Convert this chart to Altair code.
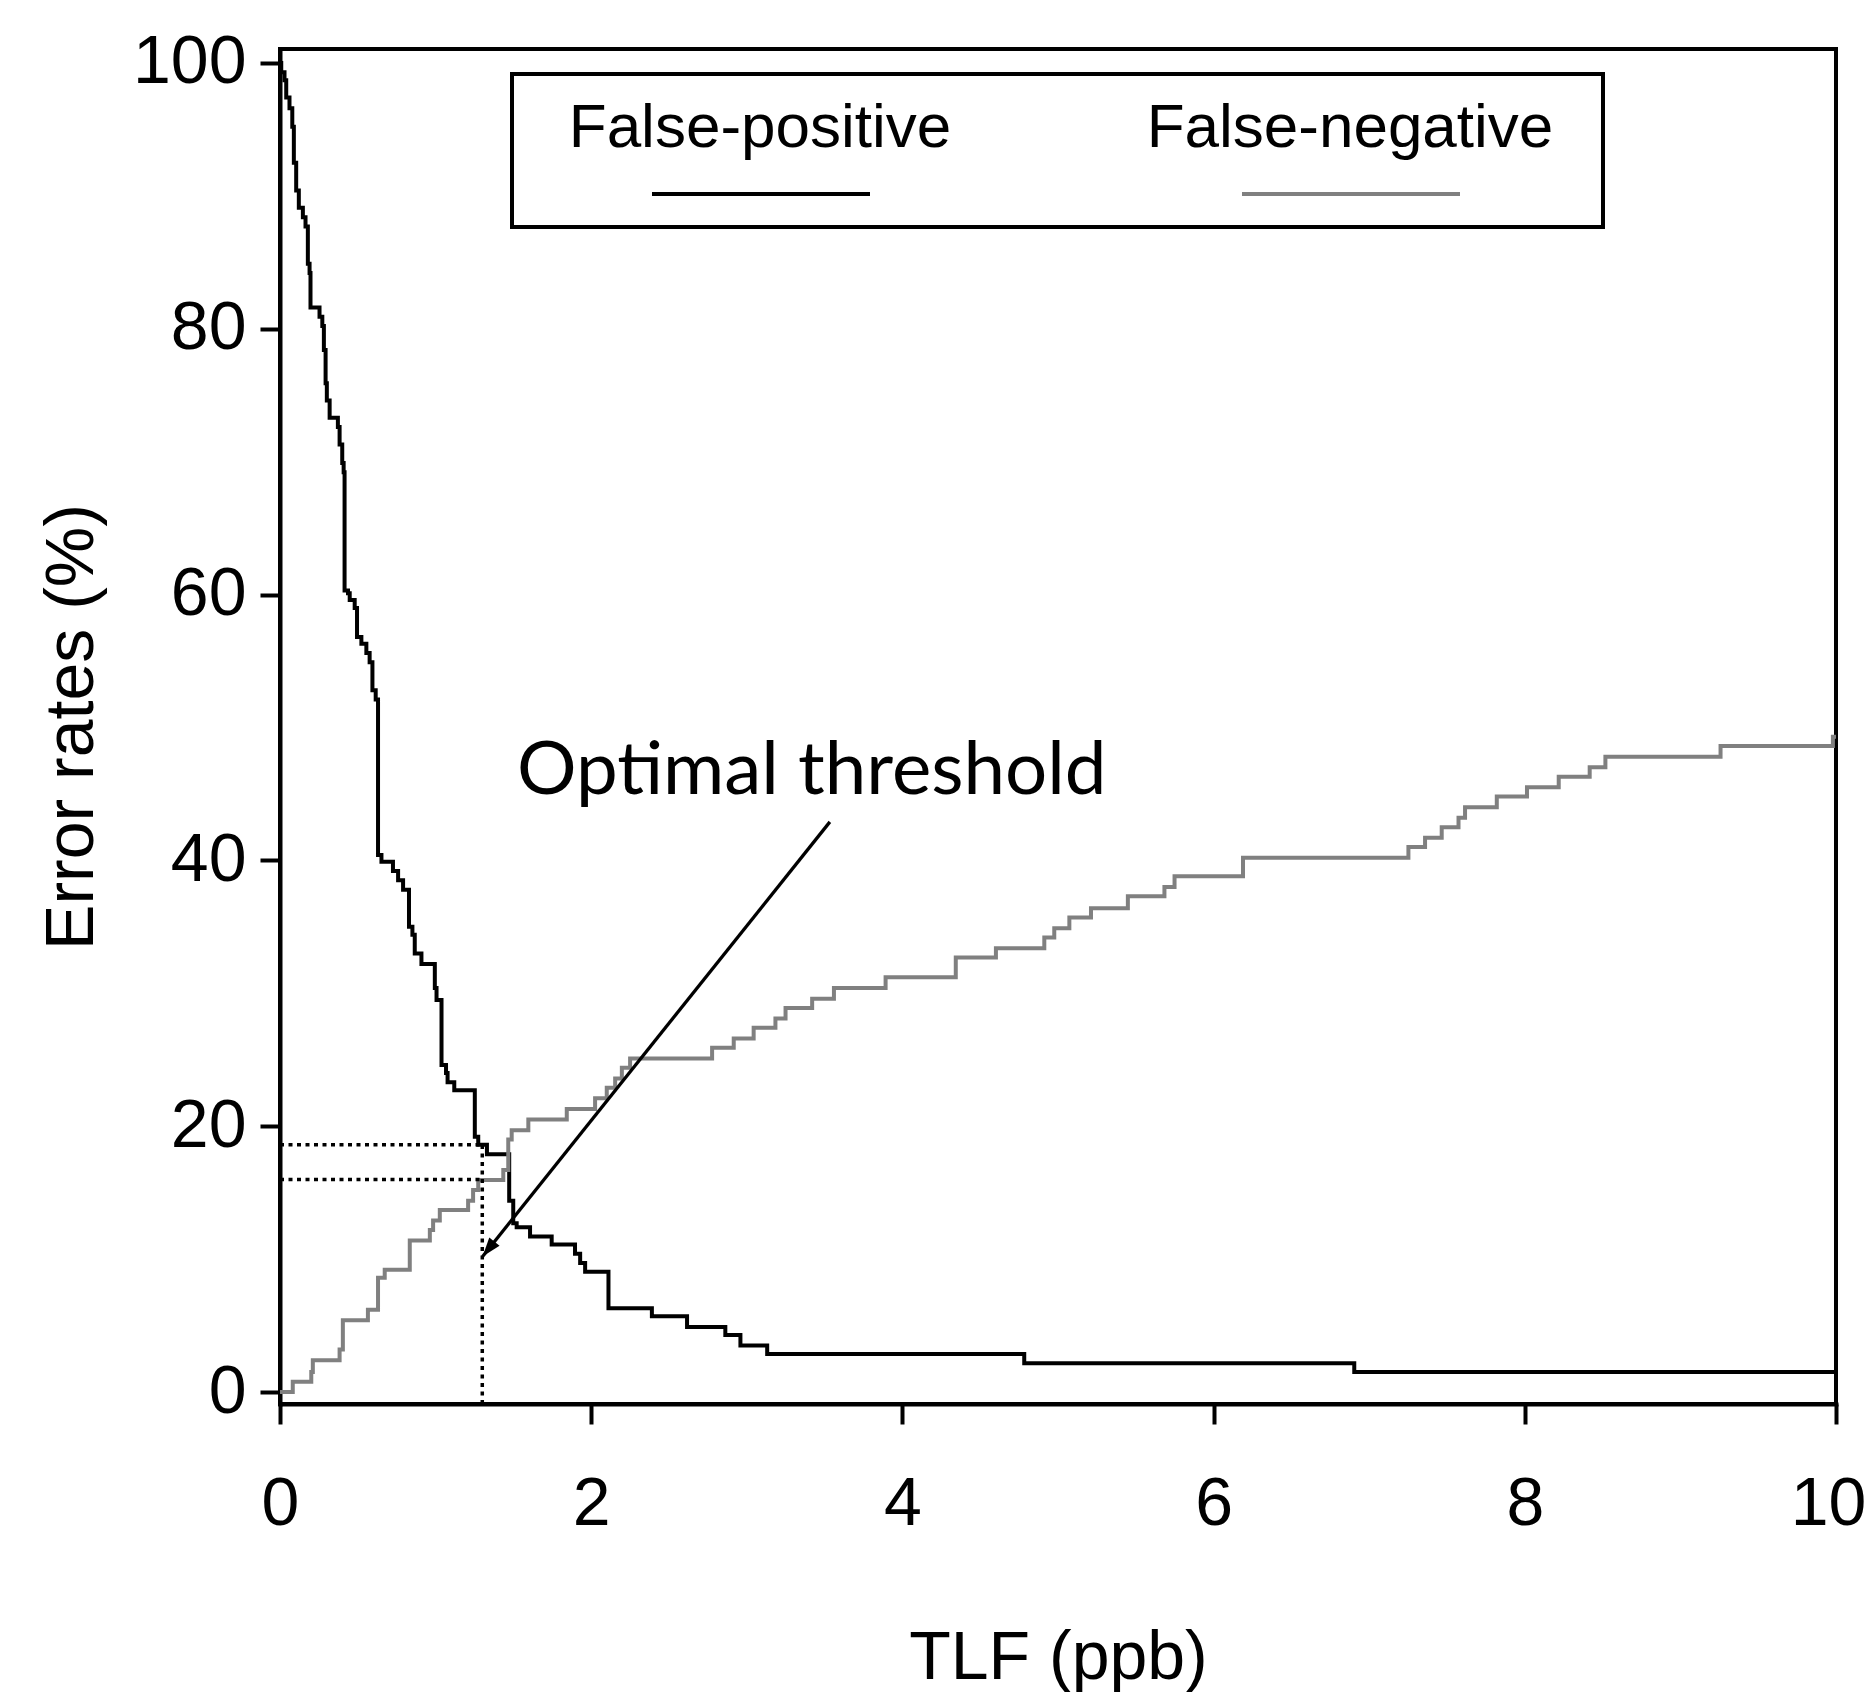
import altair as alt
import pandas as pd

# ---- data (TLF in ppb, error rate in %) ----
fp_x = [0, 0.008, 0.029, 0.04, 0.061, 0.079, 0.089, 0.104, 0.121, 0.147, 0.164, 0.179, 0.19, 0.196,
        0.254, 0.272, 0.282, 0.293, 0.301, 0.319, 0.372, 0.383, 0.40, 0.409, 0.415, 0.437, 0.448,
        0.48, 0.495, 0.523, 0.555, 0.576, 0.594, 0.615, 0.63, 0.652, 0.726, 0.759, 0.791, 0.829,
        0.851, 0.866, 0.909, 0.995, 1.006, 1.038, 1.067, 1.077, 1.12, 1.252, 1.274, 1.33, 1.473,
        1.499, 1.521, 1.607, 1.746, 1.896, 1.929, 1.961, 2.111, 2.39, 2.616, 2.862, 2.959, 3.131,
        4.783, 6.904, 10.0]
fp_y = [100, 99.3, 98.7, 97.4, 96.6, 95.2, 92.5, 90.4, 89.1, 88.4, 87.7, 84.9, 84.2, 81.6,
        80.9, 80.2, 78.4, 75.9, 74.6, 73.3, 72.6, 71.3, 69.9, 69.2, 60.3, 60.1, 59.6,
        59.0, 56.8, 56.3, 55.6, 54.9, 52.8, 52.1, 40.4, 39.9, 39.2, 38.5, 37.8, 35.0,
        34.4, 33.0, 32.2, 30.4, 29.5, 24.6, 24.0, 23.3, 22.7, 19.2, 18.6, 17.9, 14.4,
        12.7, 12.4, 11.7, 11.1, 10.4, 9.7, 9.05, 6.3, 5.7, 4.9, 4.3, 3.5, 2.86,
        2.16, 1.5, 1.5]

fn_x = [0, 0.082, 0.201, 0.211, 0.383, 0.404, 0.565, 0.63, 0.673, 0.834, 0.963, 0.984, 1.027,
        1.209, 1.241, 1.274, 1.435, 1.467, 1.489, 1.596, 1.843, 2.025, 2.10, 2.154, 2.197, 2.25,
        2.777, 2.916, 3.044, 3.184, 3.249, 3.42, 3.56, 3.892, 4.343, 4.601, 4.912, 4.976, 5.073,
        5.212, 5.449, 5.684, 5.749, 6.189, 7.252, 7.359, 7.466, 7.574, 7.616, 7.82, 8.014, 8.218,
        8.417, 8.518, 9.258, 9.98, 10.0]
fn_y = [0, 0.77, 1.5, 2.4, 3.2, 5.4, 6.2, 8.6, 9.2, 11.4, 12.2, 12.9, 13.7,
        14.4, 15.2, 15.95, 16.7, 19.0, 19.7, 20.5, 21.3, 22.1, 22.9, 23.6, 24.4, 25.1,
        25.9, 26.6, 27.4, 28.1, 28.9, 29.6, 30.4, 31.2, 32.7, 33.4, 34.2, 34.9, 35.7,
        36.4, 37.3, 38.0, 38.8, 40.2, 41.0, 41.7, 42.5, 43.2, 44.0, 44.8, 45.5, 46.3,
        47.0, 47.8, 48.6, 49.3, 49.3]

series_names = ["False-positive", "False-negative"]
series_colors = ["#000000", "#808080"]

threshold_x = 1.30
threshold_fp = 18.6
threshold_fn = 16.0
annotation_text = "Optimal threshold"
arrow_from = (3.534, 42.9)
arrow_to = (1.302, 10.2)

x_ticks = [0, 2, 4, 6, 8, 10]
y_ticks = [0, 20, 40, 60, 80, 100]
x_domain = [0, 10]
y_domain = [-0.9, 101.05]

# ---- tables ----
curves = pd.concat([
    pd.DataFrame({"tlf": fp_x, "rate": fp_y, "series": series_names[0]}),
    pd.DataFrame({"tlf": fn_x, "rate": fn_y, "series": series_names[1]}),
])

W, H = 1556, 1355
LW = 4

xs = alt.Scale(domain=x_domain, nice=False, zero=False)
ys = alt.Scale(domain=y_domain, nice=False, zero=False)

x_axis = alt.Axis(values=x_ticks, title="TLF (ppb)", titlePadding=86, labelPadding=46,
                  format="d", labelFlush=False,
                  labelOffset={"condition": {"test": "datum.value == 10", "value": -8},
                               "value": 0})
y_axis = alt.Axis(values=y_ticks, title="Error rates (%)", titlePadding=26, labelPadding=14,
                  format="d", labelFlush=False)

lines = alt.Chart(curves).mark_line(interpolate="step-after", strokeWidth=LW).encode(
    x=alt.X("tlf:Q", scale=xs, axis=x_axis),
    y=alt.Y("rate:Q", scale=ys, axis=y_axis),
    color=alt.Color("series:N", scale=alt.Scale(domain=series_names, range=series_colors),
                    legend=None),
)

# dotted guide lines at optimal threshold
hguides = pd.DataFrame({"x0": [0, 0], "x1": [threshold_x, threshold_x],
                        "y": [threshold_fp, threshold_fn]})
hg = alt.Chart(hguides).mark_rule(strokeDash=[4, 4.5], strokeWidth=3.5, color="black").encode(
    x=alt.X("x0:Q", scale=xs), x2="x1:Q", y=alt.Y("y:Q", scale=ys))
vguide = pd.DataFrame({"x": [threshold_x], "y0": [y_domain[0]], "y1": [threshold_fp]})
vg = alt.Chart(vguide).mark_rule(strokeDash=[4, 4.5], strokeWidth=3.5, color="black").encode(
    x=alt.X("x:Q", scale=xs), y=alt.Y("y0:Q", scale=ys), y2="y1:Q")

# arrow
arrow_df = pd.DataFrame({"x0": [arrow_from[0]], "y0": [arrow_from[1]],
                         "x1": [arrow_to[0]], "y1": [arrow_to[1]]})
arrow_line = alt.Chart(arrow_df).mark_rule(strokeWidth=3.3, color="black").encode(
    x=alt.X("x0:Q", scale=xs), y=alt.Y("y0:Q", scale=ys), x2="x1:Q", y2="y1:Q")
head = alt.Chart(arrow_df).mark_point(
    shape="M0,0 L-0.45,1.3 L0.45,1.3 Z", size=850, filled=True, color="black",
    opacity=1, angle=218.6).encode(
    x=alt.X("x1:Q", scale=xs), y=alt.Y("y1:Q", scale=ys))

# annotation text
ann = alt.Chart(pd.DataFrame({"t": [annotation_text]})).mark_text(
    font="Lato", fontSize=74.5, align="left", baseline="alphabetic", color="black").encode(
    text="t:N", x=alt.value(237), y=alt.value(745))

# legend box (drawn manually)
legend_box = alt.Chart(pd.DataFrame({"a": [0]})).mark_rect(
    fill="white", stroke="black", strokeWidth=LW).encode(
    x=alt.value(232), x2=alt.value(1323), y=alt.value(25), y2=alt.value(178))
leg_df = pd.DataFrame({"series": series_names, "tx": [480, 1070],
                       "lx0": [372, 962], "lx1": [590, 1180]})
leg_text = alt.Chart(leg_df).mark_text(
    font="Liberation Sans", fontSize=62, baseline="alphabetic", align="center",
    color="black").encode(text="series:N", x=alt.X("tx:Q", scale=None), y=alt.value(98))
leg_line = alt.Chart(leg_df).mark_rule(strokeWidth=LW).encode(
    x=alt.X("lx0:Q", scale=None), x2="lx1:Q", y=alt.value(145),
    color=alt.Color("series:N", scale=alt.Scale(domain=series_names, range=series_colors),
                    legend=None))

chart = alt.layer(lines, hg, vg, arrow_line, head, ann, legend_box, leg_text, leg_line).properties(
    width=W, height=H,
    autosize=alt.AutoSizeParams(type="none"),
    padding={"left": 272, "top": 41, "right": 32, "bottom": 288},
).configure_view(stroke="black", strokeWidth=LW).configure_axis(
    grid=False, domainColor="black", domainWidth=LW, tickColor="black", tickWidth=LW,
    tickSize=20, labelFont="Liberation Sans", labelFontSize=68, labelColor="black",
    titleFont="Liberation Sans", titleFontSize=68, titleColor="black", titleFontWeight="normal",
    domainCap="square",
)

chart.save("out.html", embed_options={"renderer": "svg", "actions": False})
